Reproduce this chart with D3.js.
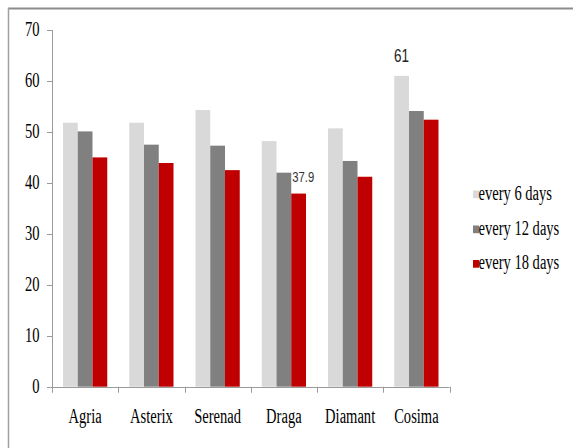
<!DOCTYPE html>
<html><head><meta charset="utf-8">
<script src="https://cdn.jsdelivr.net/npm/d3@7"></script>
<style>body{margin:0;background:#fff}svg{display:block}</style>
</head><body>
<script>
const categories = ["Agria","Asterix","Serenad","Draga","Diamant","Cosima"];
const seriesNames = ["every 6 days","every 12 days","every 18 days"];
const every6 = [51.8, 51.8, 54.3, 48.2, 50.7, 61];
const every12 = [50.1, 47.5, 47.3, 42.0, 44.3, 54.1];
const every18 = [45.0, 43.9, 42.5, 37.9, 41.2, 52.4];
const yTicks = [0,10,20,30,40,50,60,70];
const colors = ["#d9d9d9","#808080","#c00000"];
const series = [every6, every12, every18];

const W = 573, H = 448;
const svg = d3.select("body").append("svg").attr("width", W).attr("height", H);

// frame
svg.append("line").attr("x1",8).attr("x2",W).attr("y1",8.5).attr("y2",8.5).attr("stroke","#8c8c8c").attr("stroke-width",2);
svg.append("line").attr("x1",8.5).attr("x2",8.5).attr("y1",8).attr("y2",H).attr("stroke","#a0a0a0").attr("stroke-width",1.5);

const y = d3.scaleLinear().domain([0,70]).range([386.7,30]);
const x = d3.scaleBand().domain(categories).range([52,449.5]).padding(0);
const inner = d3.scaleBand().domain(d3.range(3)).range([11, x.bandwidth()-11]).padding(0);

const serif = "'Liberation Serif','Times New Roman',serif";
const sans = "'Liberation Sans',Arial,sans-serif";
function stext(g, tx, ty, str, opts){
  return g.append("text")
    .attr("transform", `translate(${tx},${ty}) scale(${opts.sx||0.97},${opts.sy||1.35})`)
    .attr("text-anchor", opts.anchor||"middle")
    .attr("font-family", opts.family||serif)
    .attr("font-size", opts.size||15)
    .attr("fill", opts.fill||"#000")
    .text(str);
}

// bars
categories.forEach((c,i)=>{
  series.forEach((s,j)=>{
    svg.append("rect")
      .attr("x", x(c)+inner(j))
      .attr("y", y(s[i]))
      .attr("width", inner.bandwidth())
      .attr("height", y(0)-y(s[i]))
      .attr("fill", colors[j]);
  });
});

// y axis
const axisColor = "#9a9a9a";
svg.append("line").attr("x1",52.5).attr("x2",52.5).attr("y1",y(70)).attr("y2",y(0)+6).attr("stroke",axisColor);
yTicks.forEach(t=>{
  svg.append("line").attr("x1",47).attr("x2",52.5).attr("y1",Math.round(y(t))+0.5).attr("y2",Math.round(y(t))+0.5).attr("stroke",axisColor);
  stext(svg, 39.5, y(t)+6.3, t, {anchor:"end"});
});
// x axis
svg.append("line").attr("x1",52).attr("x2",449.5).attr("y1",Math.round(y(0))+0.5).attr("y2",Math.round(y(0))+0.5).attr("stroke",axisColor);
categories.forEach((c,i)=>{
  const xx = Math.round(x(c)+x.bandwidth())+0.5;
  svg.append("line").attr("x1",xx).attr("x2",xx).attr("y1",y(0)).attr("y2",y(0)+6).attr("stroke",axisColor);
  stext(svg, x(c)+x.bandwidth()/2, 422.5, c, {});
});

// data labels
const iC = categories.indexOf("Cosima");
stext(svg, x("Cosima")+inner(0)+inner.bandwidth()/2, y(every6[iC])-14, every6[iC], {family:sans,size:13.5,sy:1.3,sx:1,fill:"#222"});
const iD = categories.indexOf("Draga");
stext(svg, x("Draga")+inner(2)+1, y(every18[iD])-11.5, every18[iD].toFixed(1), {anchor:"start",family:sans,size:11.3,sy:1.32,sx:1,fill:"#333"});

// legend
const legY = [199.5, 234.5, 269];
seriesNames.forEach((n,j)=>{
  svg.append("rect").attr("x",473).attr("y",legY[j]-9).attr("width",6).attr("height",7.7).attr("fill",colors[j]);
  stext(svg, 478.5, legY[j], n, {anchor:"start", size:15});
});
</script>
</body></html>
